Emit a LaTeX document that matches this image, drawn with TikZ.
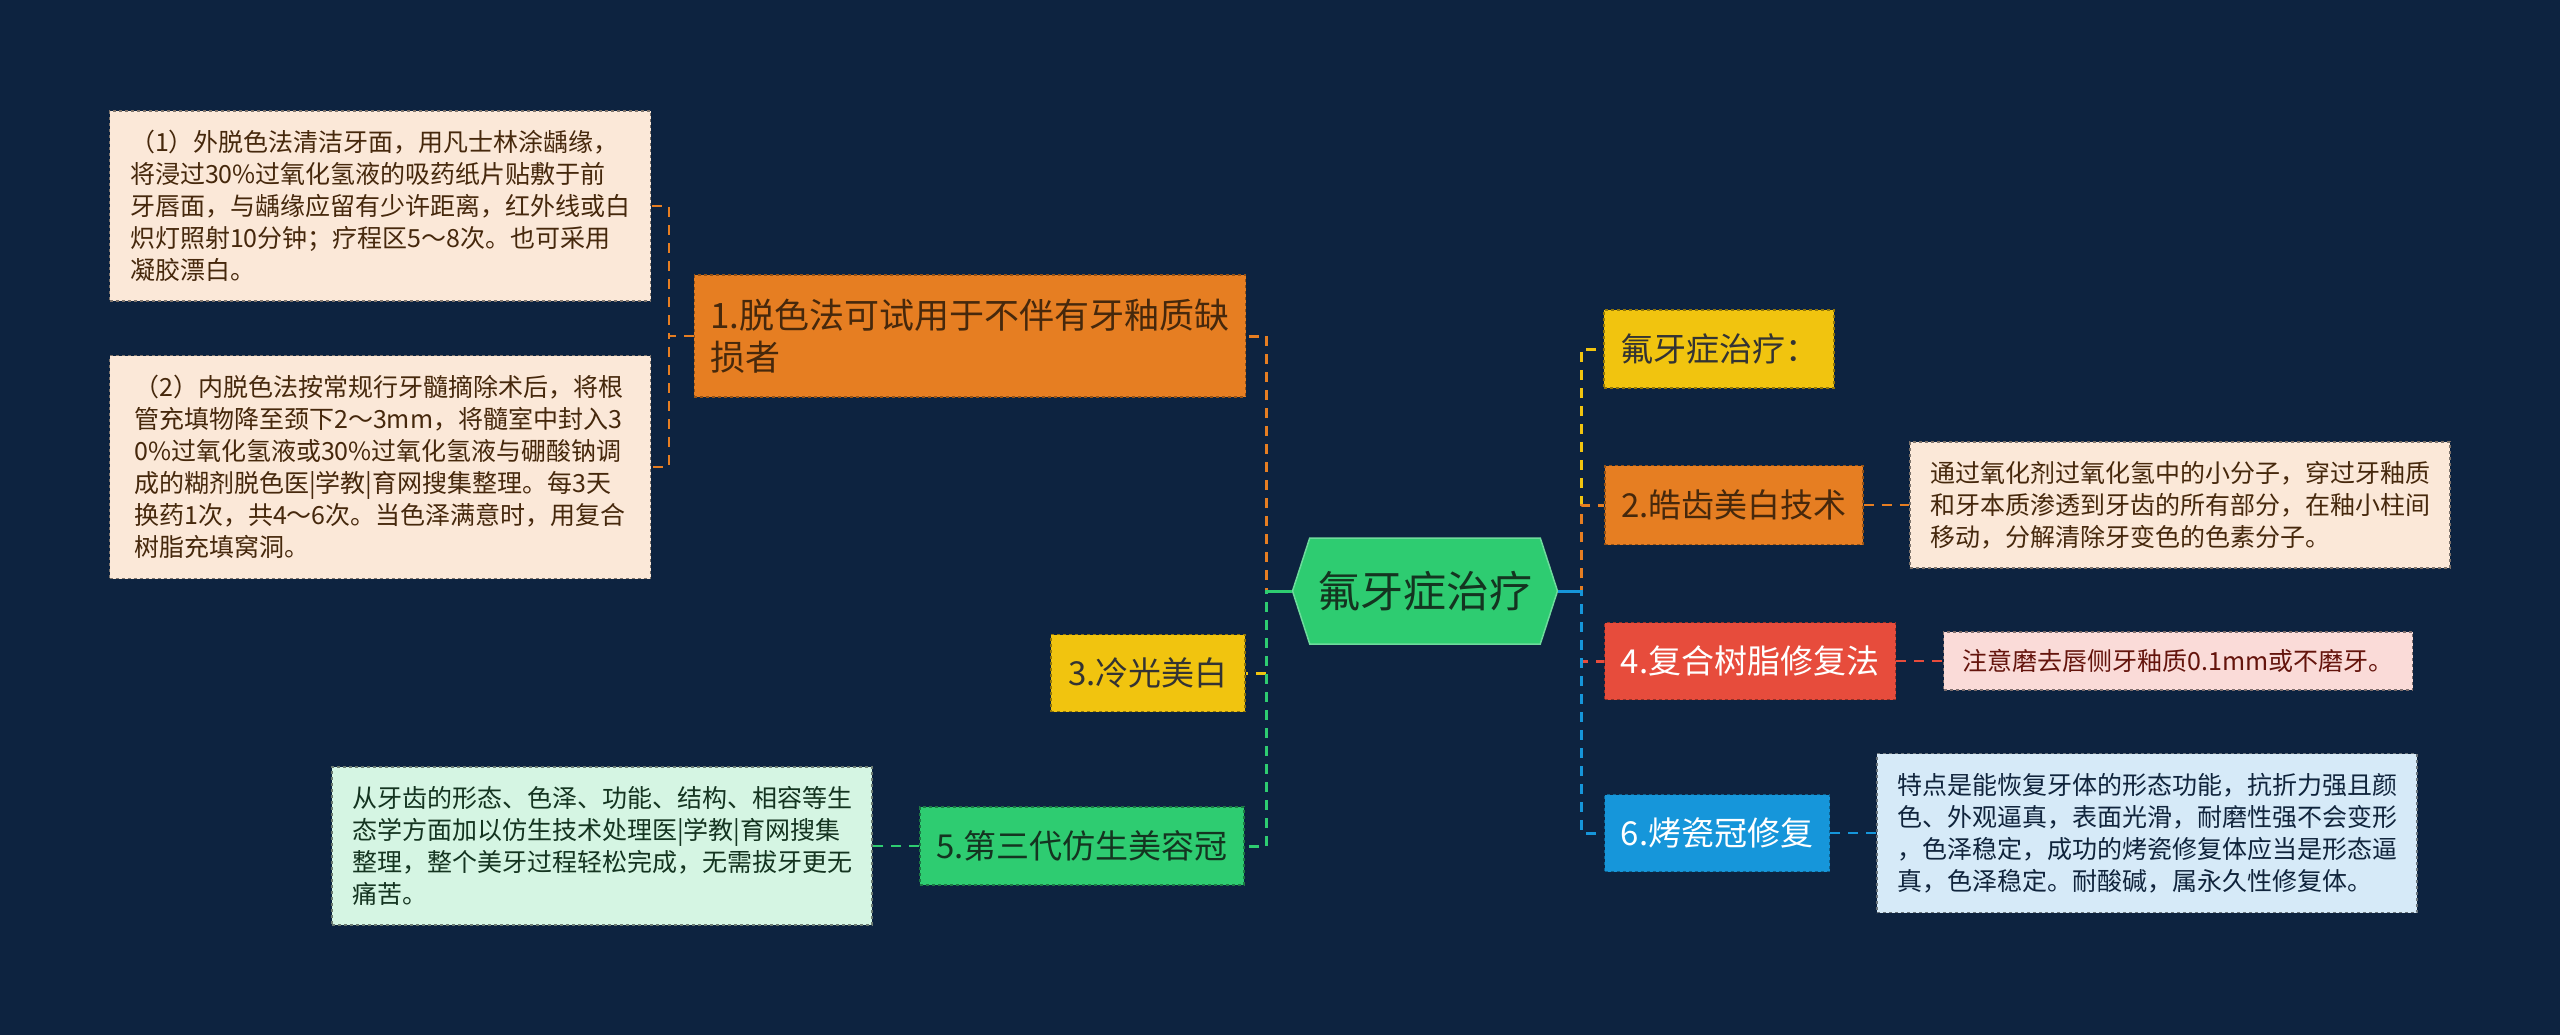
\documentclass[tikz,border=0pt]{standalone}
\usepackage{fontspec}
\setmainfont{Noto Sans CJK SC}
\usetikzlibrary{shapes.symbols}
\definecolor{mapbg}{RGB}{13,35,64}
\definecolor{mporange}{RGB}{230,126,34}
\definecolor{mpyellow}{RGB}{241,196,15}
\definecolor{mpgreen}{RGB}{46,204,113}
\definecolor{mpred}{RGB}{231,76,60}
\definecolor{mpblue}{RGB}{22,150,218}
\definecolor{lforange}{RGB}{251,232,216}
\definecolor{lfred}{RGB}{250,219,216}
\definecolor{lfblue}{RGB}{214,234,248}
\definecolor{lfgreen}{RGB}{213,245,227}
\definecolor{txbrown}{RGB}{70,40,12}
\definecolor{txdkgreen}{RGB}{20,52,32}
\definecolor{txdkred}{RGB}{100,20,12}
\definecolor{txnavy}{RGB}{16,36,60}

\begin{document}
\begin{tikzpicture}[x=1pt,y=-1pt,
  topic/.style={draw,dashed,line width=1.2pt,inner xsep=16pt,inner ysep=0pt,align=left,font=\fontsize{33}{42}\selectfont},
  leaf/.style={draw,dashed,line width=1.2pt,inner xsep=13pt,inner ysep=0pt,align=left,font=\fontsize{25}{32}\selectfont},
  link/.style={line width=3pt,dash pattern=on 10pt off 8pt},
  sublink/.style={line width=2pt,dash pattern=on 10pt off 8pt}]
  % Background
  \fill[mapbg] (0,0) rectangle (2560,1035);
  % Root
  \node[shape=signal,signal to=west and east,signal pointer angle=144,fill=mpgreen,draw=mpgreen!70!white,line width=1.5pt,
    minimum width=265pt,minimum height=106pt,inner sep=0pt,text=txdkgreen,font=\fontsize{43}{50}\selectfont] (root) at (1425,591) {氟牙症治疗};
  % Left topics
  \node[topic,fill=mporange,draw=mporange!65!black,text=txbrown,minimum width=547pt,minimum height=122pt,font=\fontsize{35}{42}\selectfont] (t1) at (970,336) {1.脱色法可试用于不伴有牙釉质缺\\损者};
  \node[topic,fill=mpyellow,draw=mpyellow!60!black,text=black!80,minimum width=194pt,minimum height=77pt] (t3) at (1148,673) {3.冷光美白};
  \node[topic,fill=mpgreen,draw=mpgreen!60!black,text=txdkgreen,minimum width=324pt,minimum height=78pt] (t5) at (1082,846) {5.第三代仿生美容冠};
  % Right topics
  \node[topic,fill=mpyellow,draw=mpyellow!60!black,text=black!80,minimum width=229pt,minimum height=78pt] (tY) at (1719,349) {氟牙症治疗：};
  \node[topic,fill=mporange,draw=mporange!65!black,text=txbrown,minimum width=258pt,minimum height=79pt] (t2) at (1734,505) {2.皓齿美白技术};
  \node[topic,fill=mpred,draw=mpred!65!black,text=white,minimum width=291pt,minimum height=77pt] (t4) at (1750,661) {4.复合树脂修复法};
  \node[topic,fill=mpblue,draw=mpblue!65!black,text=white,minimum width=225pt,minimum height=77pt] (t6) at (1717,833) {6.烤瓷冠修复};
  % Leaves
  \node[leaf,fill=lforange,draw=lforange!50!black,text=txbrown,minimum width=541pt,minimum height=190pt] (l1a) at (380,206) {（1）外脱色法清洁牙面，用凡士林涂龋缘，\\将浸过30\%过氧化氢液的吸药纸片贴敷于前\\牙唇面，与龋缘应留有少许距离，红外线或白\\炽灯照射10分钟；疗程区5～8次。也可采用\\凝胶漂白。};
  \node[leaf,fill=lforange,draw=lforange!50!black,text=txbrown,minimum width=541pt,minimum height=223pt] (l1b) at (380,467) {（2）内脱色法按常规行牙髓摘除术后，将根\\管充填物降至颈下2～3mm，将髓室中封入3\\0\%过氧化氢液或30\%过氧化氢液与硼酸钠调\\成的糊剂脱色医|学教|育网搜集整理。每3天\\换药1次，共4～6次。当色泽满意时，用复合\\树脂充填窝洞。};
  \node[leaf,fill=lfgreen,draw=lfgreen!50!black,text=txdkgreen,minimum width=540pt,minimum height=158pt] (l5) at (602,846) {从牙齿的形态、色泽、功能、结构、相容等生\\态学方面加以仿生技术处理医|学教|育网搜集\\整理，整个美牙过程轻松完成，无需拔牙更无\\痛苦。};
  \node[leaf,fill=lforange,draw=lforange!50!black,text=txbrown,minimum width=540pt,minimum height=126pt] (l2) at (2180,505) {通过氧化剂过氧化氢中的小分子，穿过牙釉质\\和牙本质渗透到牙齿的所有部分，在釉小柱间\\移动，分解清除牙变色的色素分子。};
  \node[leaf,fill=lfred,draw=lfred!50!black,text=txdkred,minimum width=469pt,minimum height=58pt] (l4) at (2178,661) {注意磨去唇侧牙釉质0.1mm或不磨牙。};
  \node[leaf,fill=lfblue,draw=lfblue!50!black,text=txnavy,minimum width=540pt,minimum height=159pt] (l6) at (2147,833) {特点是能恢复牙体的形态功能，抗折力强且颜\\色、外观逼真，表面光滑，耐磨性强不会变形\\，色泽稳定，成功的烤瓷修复体应当是形态逼\\真，色泽稳定。耐酸碱，属永久性修复体。};
  % Root to topics
  \draw[link,mpyellow] (root.east) -- ++(23,0) |- (tY.west);
  \draw[link,mporange] (root.east) -- ++(23,0) |- (t2.west);
  \draw[link,mpred] (root.east) -- ++(23,0) |- (t4.west);
  \draw[link,mpblue] (root.east) -- ++(23,0) |- (t6.west);
  \draw[line width=3pt,mpblue] (root.east) -- ++(23,0);
  \draw[link,mporange] (root.west) -- ++(-25,0) |- (t1.east);
  \draw[link,mpyellow] (root.west) -- ++(-25,0) |- (t3.east);
  \draw[link,mpgreen] (root.west) -- ++(-25,0) |- (t5.east);
  \draw[line width=3pt,mpgreen] (root.west) -- ++(-25,0);
  % Topics to leaves
  \draw[sublink,mporange] (t1.west) -- ++(-25,0) |- (l1a.east);
  \draw[sublink,mporange] (t1.west) -- ++(-25,0) |- (l1b.east);
  \draw[sublink,mporange] (t2.east) -- (l2.west);
  \draw[sublink,mpred] (t4.east) -- (l4.west);
  \draw[sublink,mpblue] (t6.east) -- (l6.west);
  \draw[sublink,mpgreen] (t5.west) -- (l5.east);
\end{tikzpicture}
\end{document}
